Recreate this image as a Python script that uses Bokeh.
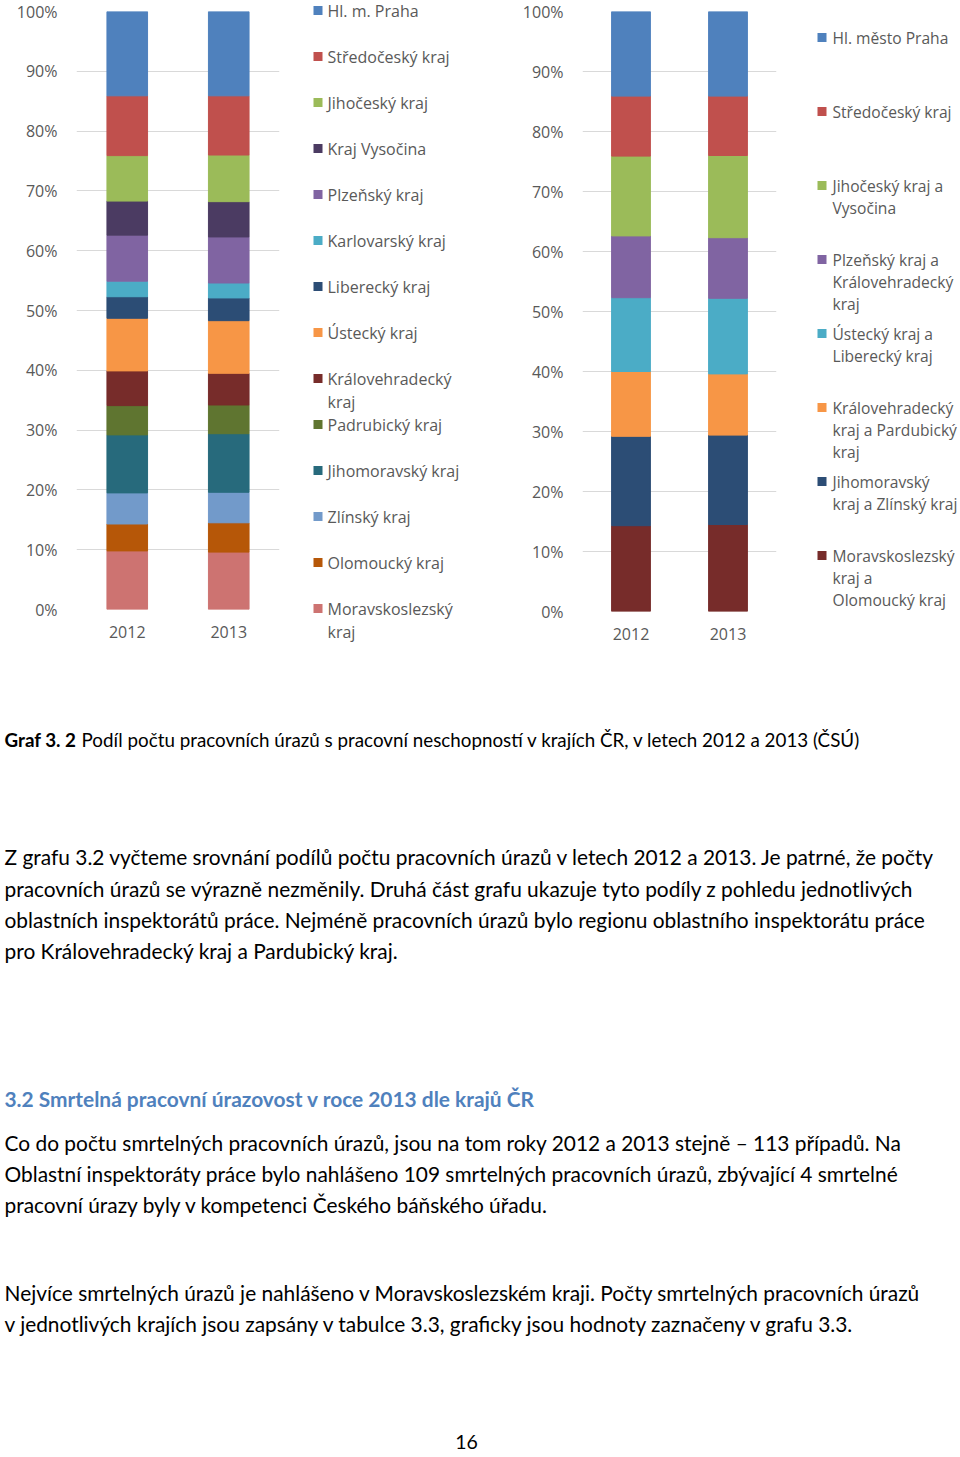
from bokeh.plotting import figure
from bokeh.layouts import column, row
from bokeh.models import ColumnDataSource, Range1d, SingleIntervalTicker, PrintfTickFormatter
from bokeh.embed import file_html
from bokeh.resources import INLINE
from bokeh.core.properties import value

# ---------------- data ----------------
years = ["2012", "2013"]

regions1 = ["Hl. m. Praha", "Středočeský kraj", "Jihočeský kraj", "Kraj Vysočina",
            "Plzeňský kraj", "Karlovarský kraj", "Liberecký kraj", "Ústecký kraj",
            "Královehradecký\nkraj", "Padrubický kraj", "Jihomoravský kraj", "Zlínský kraj",
            "Olomoucký kraj", "Moravskoslezský\nkraj"]
share1_2012 = [14.1, 10.0, 7.6, 5.7, 7.7, 2.6, 3.6, 8.8, 5.8, 4.9, 9.7, 5.2, 4.5, 9.8]
share1_2013 = [14.1, 9.9, 7.8, 5.9, 7.7, 2.5, 3.8, 8.8, 5.3, 4.8, 9.8, 5.1, 4.9, 9.6]
colors1 = ["#4F81BD", "#C0504D", "#9BBB59", "#4B3B62", "#8064A2", "#4BACC6", "#2C4D75",
           "#F79646", "#772C2A", "#5F7530", "#276A7C", "#729ACA", "#B65708", "#CD7371"]

regions2 = ["Hl. město Praha", "Středočeský kraj", "Jihočeský kraj a\nVysočina",
            "Plzeňský kraj a\nKrálovehradecký\nkraj", "Ústecký kraj a\nLiberecký kraj",
            "Královehradecký\nkraj a Pardubický\nkraj", "Jihomoravský\nkraj a Zlínský kraj",
            "Moravskoslezský\nkraj a\nOlomoucký kraj"]
share2_2012 = [14.1, 10.0, 13.3, 10.3, 12.3, 10.8, 14.9, 14.3]
share2_2013 = [14.1, 9.9, 13.7, 10.1, 12.6, 10.2, 14.9, 14.5]
colors2 = ["#4F81BD", "#C0504D", "#9BBB59", "#8064A2", "#4BACC6", "#F79646", "#2C4D75", "#772C2A"]

caption_bold = "Graf 3. 2"
caption_text = "Podíl počtu pracovních úrazů s pracovní neschopností v krajích ČR, v letech 2012 a 2013 (ČSÚ)"
para1 = ["Z grafu 3.2 vyčteme srovnání podílů počtu pracovních úrazů v letech 2012 a 2013. Je patrné, že počty",
         "pracovních úrazů se výrazně nezměnily. Druhá část grafu ukazuje tyto podíly z pohledu jednotlivých",
         "oblastních inspektorátů práce. Nejméně pracovních úrazů bylo regionu oblastního inspektorátu práce",
         "pro Královehradecký kraj a Pardubický kraj."]
heading = "3.2 Smrtelná pracovní úrazovost v roce 2013 dle krajů ČR"
para2 = ["Co do počtu smrtelných pracovních úrazů, jsou na tom roky 2012 a 2013 stejně – 113 případů. Na",
         "Oblastní inspektoráty práce bylo nahlášeno 109 smrtelných pracovních úrazů, zbývající 4 smrtelné",
         "pracovní úrazy byly v kompetenci Českého báňského úřadu."]
para3 = ["Nejvíce smrtelných úrazů je nahlášeno v Moravskoslezském kraji. Počty smrtelných pracovních úrazů",
         "v jednotlivých krajích jsou zapsány v tabulce 3.3, graficky jsou hodnoty zaznačeny v grafu 3.3."]
page_number = "16"

FONT = "Open Sans"
TXT_FONT = "Lato"
GREY = "#595959"

ROW_H = 647                   # height of the chart row


def bar_chart(regions, s2012, s2013, colors, width, left, right, top, bottom):
    keys = [r.replace("\n", " ") for r in regions]
    data = {"year": years}
    for k, a, b in zip(keys, s2012, s2013):
        data[k] = [a, b]
    src = ColumnDataSource(data)
    p = figure(x_range=years, y_range=Range1d(0, 100), width=width, height=ROW_H,
               toolbar_location=None, output_backend="svg", frame_align=False,
               min_border_left=left, min_border_right=right,
               min_border_top=top, min_border_bottom=bottom)
    p.vbar_stack(list(reversed(keys)), x="year", width=0.4,
                 color=list(reversed(colors)), source=src)
    p.outline_line_color = None
    p.xgrid.grid_line_color = None
    p.ygrid.grid_line_color = "#D9D9D9"
    p.ygrid.grid_line_width = 1
    p.yaxis.ticker = SingleIntervalTicker(interval=10)
    p.yaxis.formatter = PrintfTickFormatter(format="%d%%")
    for ax in (p.xaxis, p.yaxis):
        ax.axis_line_color = None
        ax.major_tick_line_color = None
        ax.minor_tick_line_color = None
        ax.major_tick_in = 0
        ax.major_tick_out = 0
        ax.major_label_text_color = GREY
        ax.major_label_text_font = FONT
        ax.major_label_text_font_size = "16px"
    p.yaxis.major_label_standoff = 15
    p.xaxis.major_label_standoff = 16
    return p


def legend_fig(labels, colors, x_left, width, sq_x, tx_x, y0, step, line_h, fsize):
    # data coordinates of this figure are page pixels
    lf = figure(width=width, height=ROW_H, x_range=Range1d(x_left, x_left + width),
                y_range=Range1d(ROW_H, 0), frame_align=False,
                toolbar_location=None, output_backend="svg", min_border=0,
                x_axis_location=None, y_axis_location=None)
    lf.grid.visible = False
    lf.outline_line_color = None
    ys = [y0 + i * step for i in range(len(labels))]
    lf.scatter(x=[sq_x + 4.5] * len(labels), y=ys, marker="square", size=9,
               color=colors, line_color=None)
    tx, ty, tt = [], [], []
    for lab, y in zip(labels, ys):
        for k, line in enumerate(lab.split("\n")):
            tx.append(tx_x)
            ty.append(y + k * line_h)
            tt.append(line)
    lf.text(x=tx, y=ty, text=tt, text_baseline="middle", text_align="left",
            text_font=value(FONT), text_font_size=fsize, text_color=GREY)
    return lf


p1 = bar_chart(regions1, share1_2012, share1_2013, colors1, 300, 76, 21, 11, 38)
l1 = legend_fig(regions1, colors1, 300, 210, 313, 327, 10, 46, 23, "16px")
p2 = bar_chart(regions2, share2_2012, share2_2013, colors2, 280, 72, 14, 11, 36)
l2 = legend_fig(regions2, colors2, 790, 170, 817, 832, 37, 74, 22, "15.6px")

# ---------------- text part ----------------
TH = 808
Y0 = ROW_H
t = figure(width=944, height=TH, x_range=Range1d(0, 944), y_range=Range1d(TH, 0),
           toolbar_location=None, output_backend="svg", min_border=0, frame_align=False,
           x_axis_location=None, y_axis_location=None)
t.grid.visible = False
t.outline_line_color = None

t.text(x=[4], y=[739 - Y0], text=[caption_bold], text_baseline="middle",
       text_font=value(TXT_FONT), text_font_style="bold", text_font_size="18.8px", text_color="#000000")
t.text(x=[81], y=[739 - Y0], text=[caption_text], text_baseline="middle",
       text_font=value(TXT_FONT), text_font_size="18.8px", text_color="#000000")

body_lines = para1 + para2 + para3
body_y = [856, 888, 919, 950, 1142, 1173, 1204, 1292, 1323]
t.text(x=[4] * len(body_lines), y=[y - Y0 for y in body_y], text=body_lines, text_baseline="middle",
       text_font=value(TXT_FONT), text_font_size="20.9px", text_color="#000000")

t.text(x=[4], y=[1098 - Y0], text=[heading], text_baseline="middle",
       text_font=value(TXT_FONT), text_font_style="bold", text_font_size="20.9px", text_color="#4F81BD")

t.text(x=[466], y=[1441 - Y0], text=[page_number], text_baseline="middle", text_align="center",
       text_font=value(TXT_FONT), text_font_size="19.5px", text_color="#000000")

layout = column(row(p1, l1, p2, l2, spacing=0), t, spacing=0)

open("out.html", "w").write(file_html(layout, INLINE))
